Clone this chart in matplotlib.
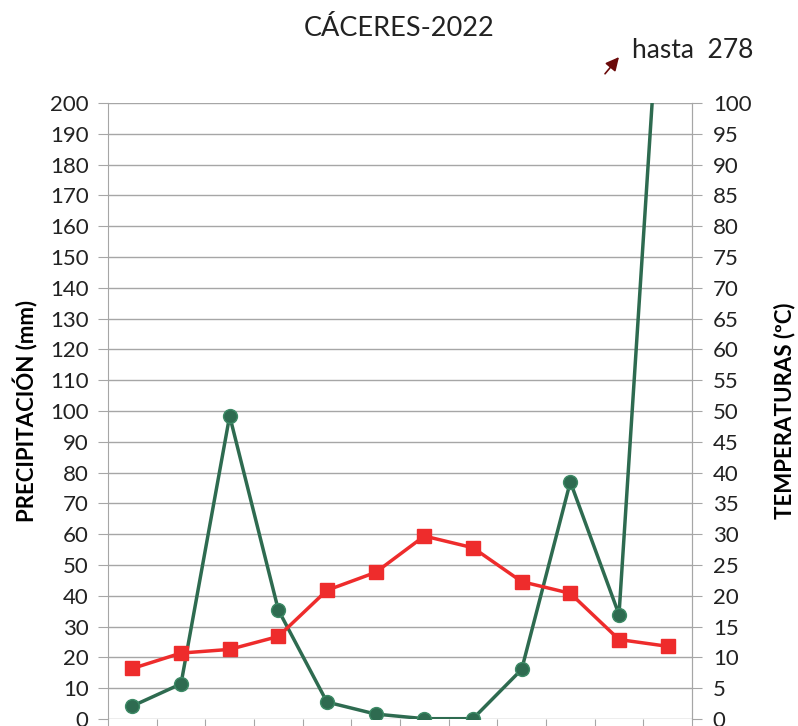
import numpy as np
import matplotlib
matplotlib.use('Agg')
import matplotlib.pyplot as plt

plt.rcParams['font.family'] = ['Lato', 'DejaVu Sans']

# datos Cáceres 2022
meses = ['E', 'F', 'M', 'A', 'M', 'J', 'J', 'A', 'S', 'O', 'N', 'D']
precip = [4.2, 11.4, 98.4, 35.4, 5.5, 1.6, 0.1, 0.1, 16.1, 77.0, 33.9, 278.0]
temp = [8.2, 10.7, 11.3, 13.4, 20.9, 23.8, 29.7, 27.8, 22.3, 20.4, 12.9, 11.8]

verde = '#2e6b50'
rojo = '#ee2c2c'
gris = '#a6a6a6'

fig = plt.figure(figsize=(7.98, 7.26), dpi=100)
ax = fig.add_axes([108/798, 1-719/726, 584/798, 616/726])
x = np.arange(len(meses))

ax.set_xlim(-0.5, len(meses)-0.5)
ax.set_ylim(0, 200)
ax.set_yticks(np.arange(0, 201, 10))
ax.grid(axis='y', color=gris, lw=1)
ax.set_axisbelow(True)
ax.set_xticks(np.arange(-0.5, len(meses), 1))
ax.set_xticklabels([])
ax.tick_params(axis='x', length=7, color=gris)
ax.tick_params(axis='y', length=7, color=gris, labelsize=16, colors='#222222', pad=7)
for s in ['top', 'bottom']:
    ax.spines[s].set_visible(False)
for s in ['left', 'right']:
    ax.spines[s].set_color(gris)

ax.plot(x, precip, color=verde, lw=2.5, marker='o', ms=10,
        mec='#3d8a66', mew=1, zorder=3)
ax.set_ylabel('PRECIPITACIÓN (mm)', fontsize=16, fontweight='bold', labelpad=8)

ax2 = ax.twinx()
ax2.set_ylim(0, 100)
ax2.set_yticks(np.arange(0, 101, 5))
ax2.tick_params(axis='y', length=7, color=gris, labelsize=16, colors='#222222', pad=8)
for s in ['top', 'bottom']:
    ax2.spines[s].set_visible(False)
ax2.spines['right'].set_color(gris)
ax2.spines['left'].set_visible(False)
ax2.plot(x, temp, color=rojo, lw=2.5, marker='s', ms=10.5, zorder=3)
ax2.set_ylabel('TEMPERATURAS (ºC)', fontsize=16, fontweight='bold',
               rotation=90, labelpad=16)

fig.text(0.5, 1-28/726, 'CÁCERES-2022', ha='center', va='center', fontsize=19.5, color='#222222')

ax.annotate('', xy=(0.878, 1.078), xytext=(0.848, 1.044), xycoords='axes fraction',
            textcoords='axes fraction', annotation_clip=False,
            arrowprops=dict(arrowstyle='-|>', color='#6b0a0a', lw=1.2, mutation_scale=20))
ax.text(0.897, 1.086, 'hasta  278', transform=ax.transAxes, ha='left', va='center',
        fontsize=19, color='#222222')

fig.savefig('out.png', dpi=100)
